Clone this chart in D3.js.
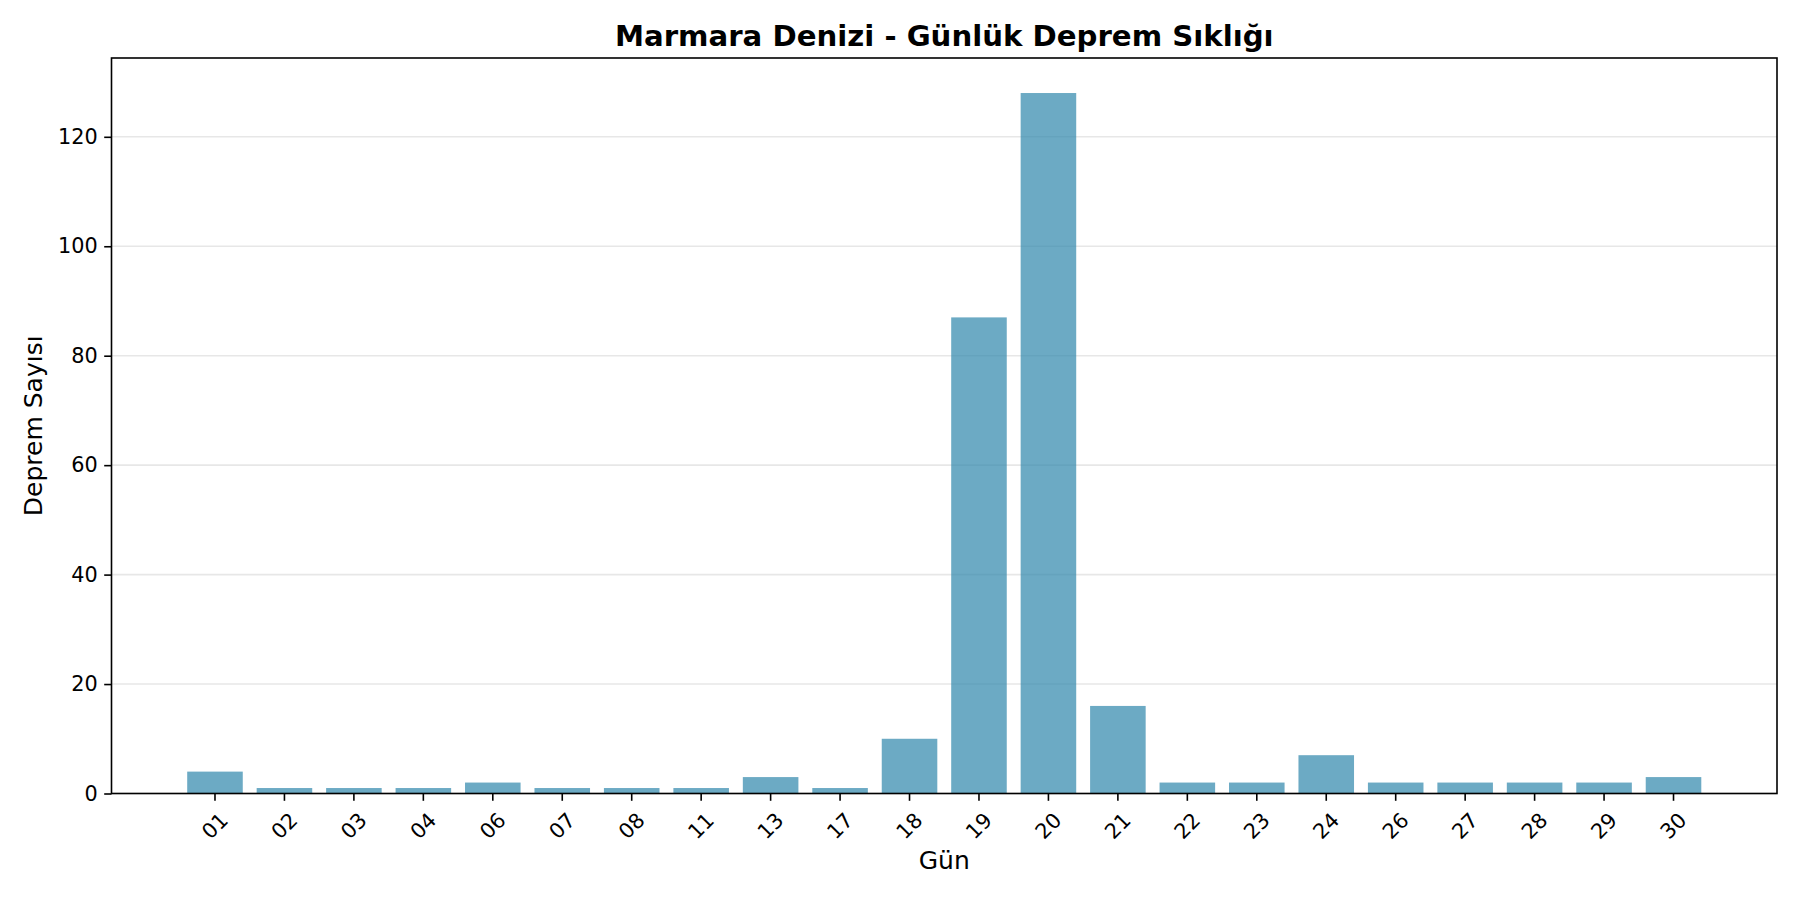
<!DOCTYPE html>
<html>
<head>
<meta charset="utf-8">
<script src="https://cdn.jsdelivr.net/npm/d3@7"></script>
<style>
  body { margin: 0; background: #fff; }
  svg { display: block; font-family: "DejaVu Sans", sans-serif; }
</style>
</head>
<body>
<div id="chart"></div>
<script>
// gun etiketleri ve deprem sayilari
const days = ["01", "02", "03", "04", "06", "07", "08", "11", "13", "17", "18",
              "19", "20", "21", "22", "23", "24", "26", "27", "28", "29", "30"]
const counts = [4, 1, 1, 1, 2, 1, 1, 1, 3, 1, 10, 87, 128, 16, 2, 2, 7, 2, 2, 2, 2, 3]
const yTicks = [0, 20, 40, 60, 80, 100, 120]

const titleText = "Marmara Denizi - Günlük Deprem Sıklığı"
const xLabel = "Gün"
const yLabel = "Deprem Sayısı"

const width = 1800, height = 900
const margin = { top: 58, right: 23, bottom: 106.5, left: 111.5 }
const plotW = width - margin.left - margin.right,
      plotH = height - margin.top - margin.bottom

const svg = d3.select("#chart").append("svg")
    .attr("width", width)
    .attr("height", height)

const g = svg.append("g")
    .attr("transform", "translate(" + margin.left + "," + margin.top + ")")

// matplotlib: bar width 0.8, 5% margin on each side
const xScale = d3.scaleBand()
    .domain(days)
    .range([0, plotW])
    .paddingInner(0.2)
    .paddingOuter(1.09)

const yScale = d3.scaleLinear()
    .domain([0, d3.max(counts) * 1.05])
    .range([plotH, 0])

// grid
g.append("g")
    .selectAll("line")
    .data(yTicks)
    .join("line")
    .attr("x1", 0)
    .attr("x2", plotW)
    .attr("y1", d => yScale(d))
    .attr("y2", d => yScale(d))
    .attr("stroke", "#b0b0b0")
    .attr("stroke-opacity", 0.3)
    .attr("stroke-width", 1.6)

// bars
g.append("g")
    .selectAll("rect")
    .data(counts)
    .join("rect")
    .attr("x", (d, i) => xScale(days[i]))
    .attr("y", d => yScale(d))
    .attr("width", xScale.bandwidth())
    .attr("height", d => plotH - yScale(d))
    .attr("fill", "#2E86AB")
    .attr("fill-opacity", 0.7)

// y axis
const yAxis = g.append("g")
    .call(d3.axisLeft(yScale).tickValues(yTicks).tickSize(7.3).tickPadding(6.5))
yAxis.select(".domain").remove()
yAxis.selectAll(".tick line").attr("stroke", "#000").attr("stroke-width", 1.6)
yAxis.selectAll(".tick text")
    .attr("font-size", 20.8)
    .attr("font-family", "DejaVu Sans")
    .attr("fill", "#000")

// x axis
const xAxis = g.append("g")
    .attr("transform", "translate(0," + plotH + ")")
    .call(d3.axisBottom(xScale).tickSize(7.3))
xAxis.select(".domain").remove()
xAxis.selectAll(".tick line").attr("stroke", "#000").attr("stroke-width", 1.6)
xAxis.selectAll(".tick text")
    .attr("font-size", 20.8)
    .attr("font-family", "DejaVu Sans")
    .attr("fill", "#000")
    .attr("dy", null)
    .attr("text-anchor", "middle")
    .attr("dominant-baseline", "central")
    .each(function () {
        // rotate about the label centre, then hang the rotated box under the tick
        const bb = this.getBBox()
        const h = (bb.width + 24) * Math.SQRT1_2
        const cy = 7.3 + 7.3 + h / 2
        d3.select(this)
            .attr("y", 0)
            .attr("transform", "translate(0," + cy + ") rotate(-45)")
    })

// frame
g.append("rect")
    .attr("width", plotW)
    .attr("height", plotH)
    .attr("fill", "none")
    .attr("stroke", "#000")
    .attr("stroke-width", 1.6)

// title + axis labels
svg.append("text")
    .attr("x", margin.left + plotW / 2)
    .attr("y", margin.top - 12.5)
    .attr("text-anchor", "middle")
    .attr("font-size", 29.2)
    .attr("font-weight", "bold")
    .text(titleText)

svg.append("text")
    .attr("x", margin.left + plotW / 2)
    .attr("y", 869)
    .attr("text-anchor", "middle")
    .attr("font-size", 25)
    .text(xLabel)

svg.append("text")
    .attr("transform", "translate(42," + (margin.top + plotH / 2) + ") rotate(-90)")
    .attr("text-anchor", "middle")
    .attr("font-size", 25)
    .text(yLabel)
</script>
</body>
</html>
